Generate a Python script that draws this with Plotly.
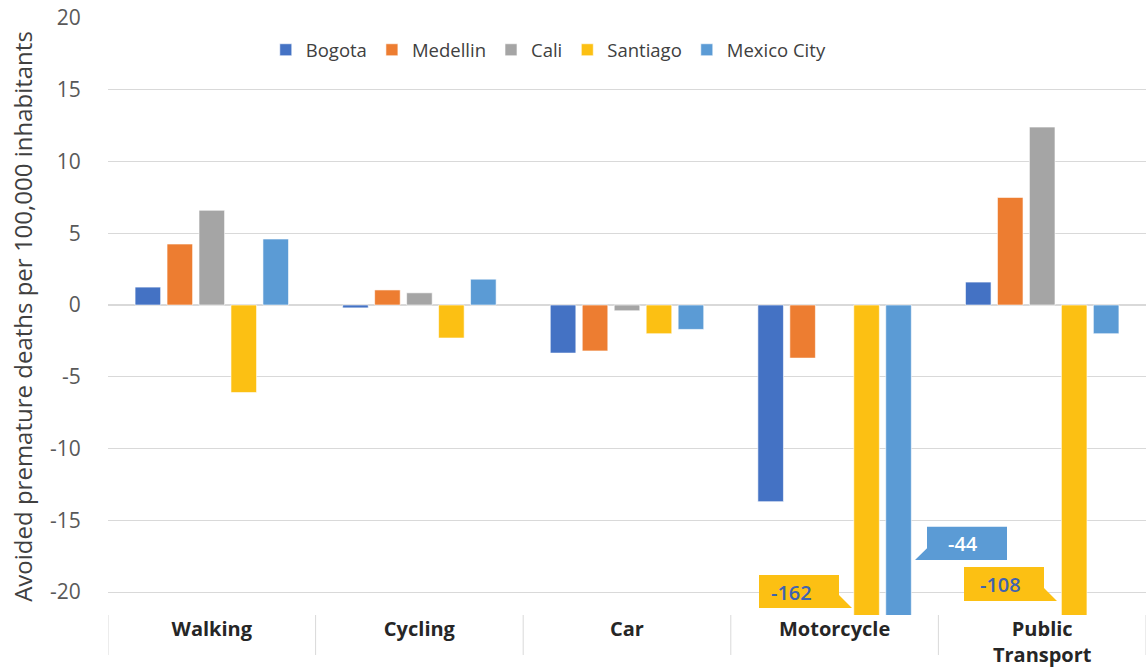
import plotly.graph_objects as go

categories = ["Walking", "Cycling", "Car", "Motorcycle", "Public Transport"]
tick_labels = ["Walking", "Cycling", "Car", "Motorcycle", "Public<br>Transport"]

bogota = [1.25, -0.2, -3.35, -13.7, 1.6]
medellin = [4.25, 1.05, -3.2, -3.7, 7.5]
cali = [6.6, 0.85, -0.4, None, 12.4]
santiago = [-6.1, -2.3, -2.0, -162, -108]
mexico_city = [4.6, 1.8, -1.7, -44, -2.0]

series_names = ["Bogota", "Medellin", "Cali", "Santiago", "Mexico City"]
series_values = [bogota, medellin, cali, santiago, mexico_city]
colors = ["#4472C4", "#ED7D31", "#A5A5A5", "#FCC013", "#5B9BD5"]

y_ticks = [-20, -15, -10, -5, 0, 5, 10, 15, 20]
y_tick_text = [str(v) for v in y_ticks]

# callouts for clipped bars: (category index, label, anchor y, fill, text colour, path in px offsets, text x offset, text y offset)
callouts = [
    (3, "-162", -20, "#FCC013", "#3F63B0",
     "M -75.6 17 L 4.4 17 L 4.4 -3 L 17.4 -16 L -75.6 -16 Z", -43, 0),
    (3, "-44", -15, "#5B9BD5", "#FFFFFF",
     "M 92.4 -6.5 L 172.4 -6.5 L 172.4 -39.75 L 80.4 -39.75 L 92.4 -28 Z", 128, -23),
    (4, "-108", -20, "#FCC013", "#3F63B0",
     "M -78.2 25 L 1.8 25 L 1.8 4 L 14.8 -9 L -78.2 -9 Z", -42, 8),
]

fig = go.Figure()
for name, vals, col in zip(series_names, series_values, colors):
    fig.add_trace(go.Bar(
        name=name, x=categories, y=vals,
        marker=dict(color=col, line=dict(color="rgba(255,255,255,0.6)", width=1)),
    ))

shapes = []
n = len(categories)
for i in range(n + 1):
    shapes.append(dict(
        type="line", xref="x", yref="paper",
        x0=i - 0.5, x1=i - 0.5, y0=0, y1=-0.067,
        line=dict(color="#D9D9D9", width=1),
    ))

annotations = []
for idx, label, ya, fill, tcol, path, tx, ty in callouts:
    shapes.append(dict(
        type="path", xref="x", yref="y",
        xsizemode="pixel", ysizemode="pixel",
        xanchor=idx, yanchor=ya, path=path,
        fillcolor=fill, line=dict(width=0), layer="above",
    ))
    annotations.append(dict(
        x=idx, y=ya, xref="x", yref="y", text=label, showarrow=False,
        xshift=tx, yshift=ty,
        font=dict(family="Open Sans", size=20, color=tcol, weight=600),
    ))

fig.update_layout(
    width=1146, height=670,
    margin=dict(l=108, r=0, t=18, b=55),
    paper_bgcolor="white", plot_bgcolor="white",
    barmode="group", bargap=0.23, bargroupgap=0.2,
    font=dict(family="Open Sans", color="#595959"),
    legend=dict(
        orientation="h", x=0.152, y=0.946, xanchor="left", yanchor="middle",
        font=dict(size=18.5, color="#404040"), bgcolor="rgba(0,0,0,0)",
        traceorder="normal",
    ),
    xaxis=dict(
        type="category", tickvals=categories, ticktext=tick_labels,
        tickfont=dict(size=20, color="#262626", weight="bold"),
        showgrid=False, zeroline=False, showline=False, ticks="",
        range=[-0.5, n - 0.5], automargin=False,
    ),
    yaxis=dict(
        range=[-21.6, 20], tickvals=y_ticks, ticktext=y_tick_text,
        tickfont=dict(size=21, color="#595959"),
        showgrid=True, gridcolor="#D9D9D9", gridwidth=1,
        zeroline=True, zerolinecolor="#D9D9D9", zerolinewidth=2,
        ticks="outside", ticklen=22, tickcolor="rgba(0,0,0,0)",
        showline=False, automargin=False,
        title=dict(text="Avoided premature deaths per 100,000 inhabitants",
                   font=dict(size=24, color="#404040"), standoff=10),
    ),
    shapes=shapes, annotations=annotations,
    showlegend=True,
)

fig.write_html("out.html", config={"displayModeBar": False},
               post_script="document.body.style.margin='0px';")
